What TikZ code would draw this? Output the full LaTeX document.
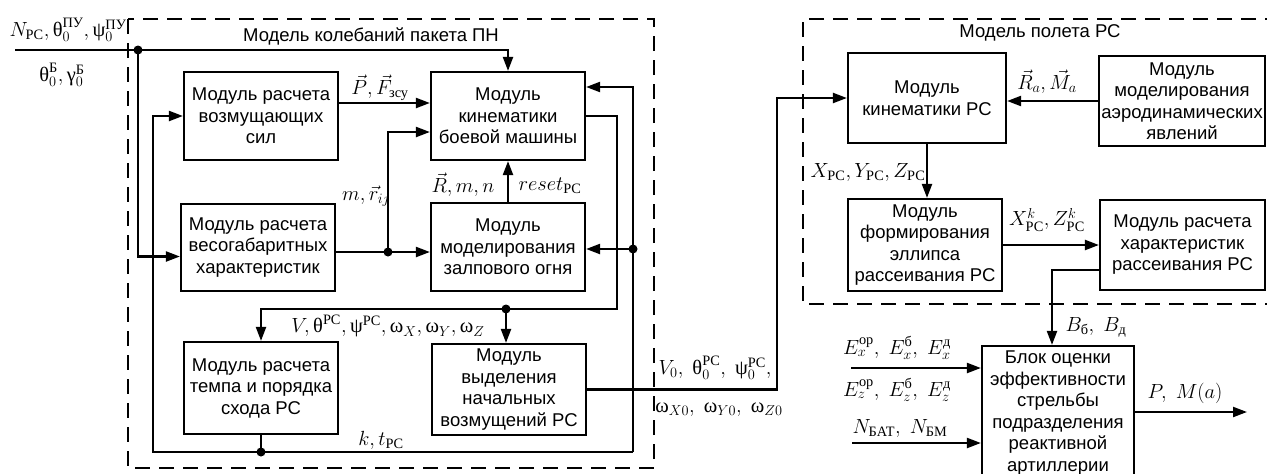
\documentclass[tikz,border=0pt]{standalone}
\usepackage{fix-cm}
\usepackage{amsmath}
\usepackage[no-math]{fontspec}
\setmainfont{Liberation Sans}
\newfontfamily\cyrserif{Liberation Serif}
\usetikzlibrary{arrows.meta}
\newcommand{\cy}[1]{\text{\cyrserif #1}}
\newcommand{\gr}[1]{\text{\cyrserif #1}}

\begin{document}
\begin{tikzpicture}[x=1pt, y=-1pt, line width=2.2pt,
		blk/.style={draw, align=center, inner sep=0pt, font=\fontsize{18.5}{21.5}\selectfont},
		ttl/.style={font=\fontsize{18.5}{21.5}\selectfont, inner sep=0pt},
		lbl/.style={font=\fontsize{20.5}{23}\selectfont, inner sep=0pt},
		frame/.style={dash pattern=on 15pt off 9pt},
		arr/.style={-{Triangle[length=14pt,width=10pt]}}]
	\useasboundingbox (0,0) rectangle (1267,474);

	% ===== Модель колебаний пакета ПН =====
	\draw[frame] (128,19) rectangle (654,468);
	\node[ttl] (ttlL) at (371,36) {Модель колебаний пакета ПН};

	\node[blk, minimum width=154pt, minimum height=88pt] (vozm) at (261,116) {Модуль расчета\\возмущающих\\сил};
	\node[blk, minimum width=154pt, minimum height=87pt] (vesg) at (258,247.5) {Модуль расчета\\весогабаритных\\характеристик};
	\node[blk, minimum width=154pt, minimum height=92pt] (temp) at (261,388) {Модуль расчета\\темпа и порядка\\схода РС};
	\node[blk, minimum width=154pt, minimum height=88pt] (kinbm) at (508,116) {Модуль\\кинематики\\боевой машины};
	\node[blk, minimum width=154pt, minimum height=88pt] (zalp) at (508,247) {Модуль\\моделирования\\залпового огня};
	\node[blk, minimum width=154pt, minimum height=91pt] (vyd) at (509,389.5) {Модуль\\выделения\\начальных\\возмущений РС};

	\coordinate (in) at (15,50);
	\coordinate (j1) at (138,50);
	\coordinate (j2) at (388,252);
	\coordinate (kr) at (617,309);
	\coordinate (j3) at (506,309);
	\coordinate (br) at (633,452);
	\coordinate (bl) at (153,452);
	\coordinate (j4) at (633,249);
	\coordinate (j5) at (temp.south |- br);
	\coordinate (vup) at (777,98);

	\draw[arr] (in) -- (j1) -| (kinbm.north);
	\draw[arr] (j1) |- ([yshift=-9pt]vesg.west);
	\draw[arr] ([yshift=13pt]vozm.east) -- ([yshift=13pt]kinbm.west);
	\draw (vesg.east |- j2) -- (j2);
	\draw[arr] (j2) -- (j2 -| zalp.west);
	\draw[arr] (j2) |- ([yshift=-16pt]kinbm.west);
	\draw[arr] (zalp.north) -- (kinbm.south);
	\draw[arr] (kinbm.east) -| (kr) -| (temp.north);
	\draw[arr] (j3) -- (j3 |- vyd.north);
	\draw (temp.south) -- (j5);
	\draw[arr] (br) -- (bl) |- (vozm.west);
	\draw[arr] (br) |- ([yshift=29pt]kinbm.east);
	\draw[arr] (j4) -- (j4 -| zalp.east);
	\foreach \p in {j1,j2,j3,j4,j5}
		\fill (\p) circle[radius=4.5pt];

	\node[lbl] (lbIn) at (68,30) {$N_{\cy{РС}},\gr{θ}_0^{\cy{ПУ}},\gr{ψ}_0^{\cy{ПУ}}$};
	\node[lbl] (lbIn2) at (62,75) {$\gr{θ}_0^{\cy{Б}},\gr{γ}_0^{\cy{Б}}$};
	\node[lbl] (lbPF) at (380,88) {$\vec P,\vec F_{\cy{зсу}}$};
	\node[lbl] (lbMr) at (366,196) {$m,\vec r_{ij}$};
	\node[lbl] (lbRmn) at (463,185) {$\vec R,m,n$};
	\node[lbl] (lbRes) at (550,186) {$reset_{\cy{PC}}$};
	\node[lbl] (lbVel) at (388,326) {$V,\gr{θ}^{\cy{PC}},\gr{ψ}^{\cy{PC}},\gr{ω}_X,\gr{ω}_Y,\gr{ω}_Z$};
	\node[lbl] (lbKt) at (381,440) {$k,t_{\cy{PC}}$};
	\node[lbl] (lbV0) at (715,368) {$V_0,\ \gr{θ}_0^{\cy{PC}},\ \gr{ψ}_0^{\cy{PC}},$};
	\node[lbl] (lbW0) at (719,410) {$\gr{ω}_{X0},\ \gr{ω}_{Y0},\ \gr{ω}_{Z0}$};

	% ===== Модель полета РС =====
	\draw[frame] (1280,19) -- (803,19) -- (803,304) -- (1280,304);
	\node[ttl] (ttlR) at (1040,33) {Модель полета РС};

	\node[blk, minimum width=158pt, minimum height=90pt] (krs) at (927,98) {Модуль\\кинематики РС};
	\node[blk, minimum width=166pt, minimum height=90pt] (aero) at (1182,101) {Модуль\\моделирования\\аэродинамических\\явлений};
	\node[blk, minimum width=154pt, minimum height=92pt] (ell) at (925,245) {Модуль\\формирования\\эллипса\\рассеивания РС};
	\node[blk, minimum width=165pt, minimum height=90pt] (scat) at (1182.5,245) {Модуль расчета\\характеристик\\рассеивания РС};

	\draw[arr] (vyd.east) -| (vup) -- (krs.west);
	\draw[arr] (aero.west) -- (aero.west -| krs.east);
	\draw[arr] (krs.south) -- (krs.south |- ell.north);
	\draw[arr] (ell.east) -- (scat.west);

	\node[lbl] (lbRM) at (1047,82) {$\vec R_a,\vec M_a$};
	\node[lbl] (lbXYZ) at (868,172) {$X_{\cy{РС}},Y_{\cy{РС}},Z_{\cy{РС}}$};
	\node[lbl] (lbXZk) at (1047,220) {$X^k_{\cy{РС}},Z^k_{\cy{РС}}$};

	% ===== Блок оценки =====
	\node[blk, minimum width=152pt, minimum height=134pt] (blok) at (1058,413) {Блок оценки\\эффективности\\стрельбы\\подразделения\\реактивной\\артиллерии};

	\coordinate (ex) at (851,368);
	\coordinate (nb) at (852,443);
	\coordinate (out) at (1247,412);
	\draw[arr] ([yshift=-25pt]scat.west) -| ([xshift=-6pt]blok.north);
	\draw[arr] (ex) -- (ex -| blok.west);
	\draw[arr] (nb) -- (nb -| blok.west);
	\draw[arr] (out -| blok.east) -- (out);

	\node[lbl] (lbB) at (1096,327) {$B_{\cy{б}},\ B_{\cy{д}}$};
	\node[lbl] (lbEx) at (897,348) {$E_x^{\cy{ор}},\ E_x^{\cy{б}},\ E_x^{\cy{д}}$};
	\node[lbl] (lbEz) at (897,390) {$E_z^{\cy{ор}},\ E_z^{\cy{б}},\ E_z^{\cy{д}}$};
	\node[lbl] (lbN) at (900,428) {$N_{\cy{БАТ}},\ N_{\cy{БМ}}$};
	\node[lbl] (lbP) at (1185,393) {$P,\ M(a)$};
\end{tikzpicture}
\end{document}
